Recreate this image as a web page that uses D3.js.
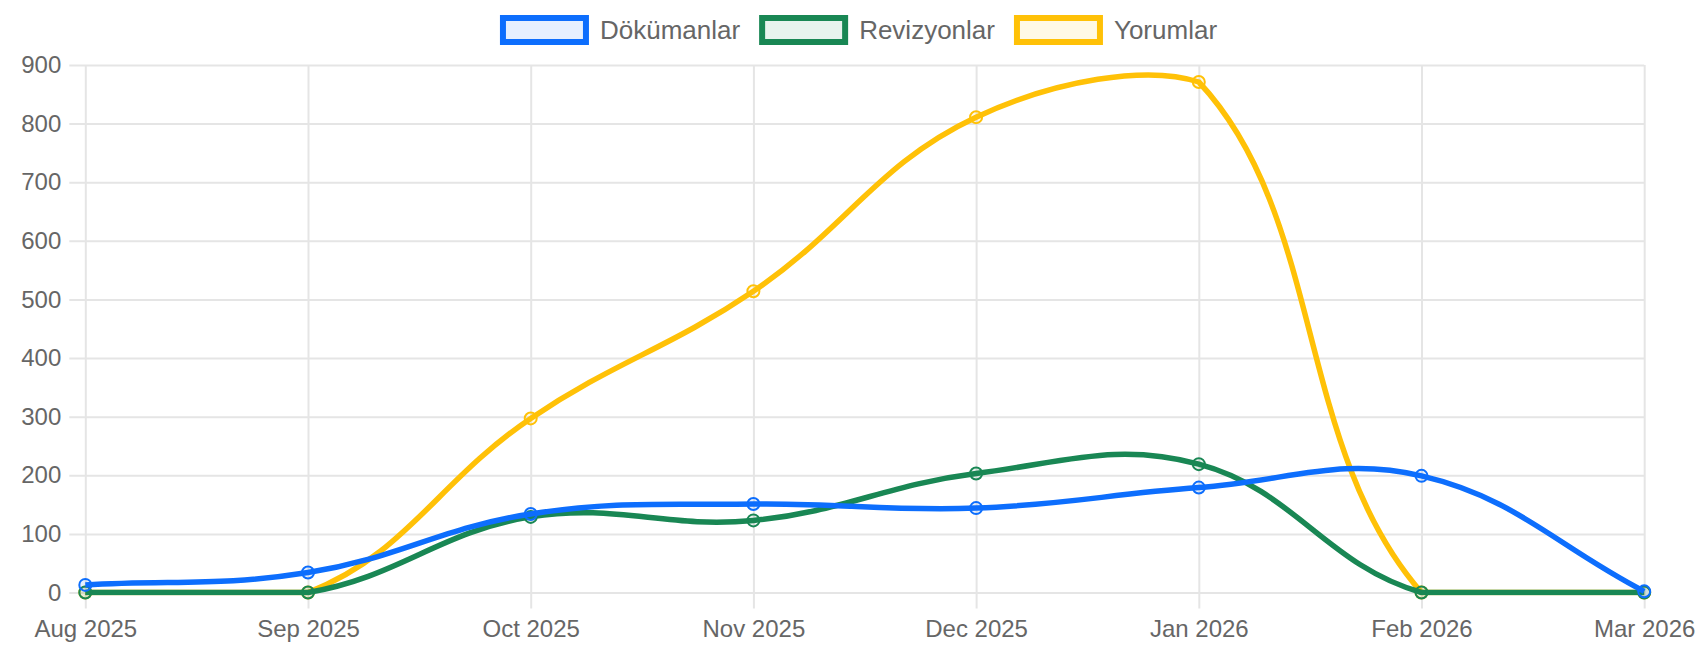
<!DOCTYPE html>
<html>
<head>
<meta charset="utf-8">
<script src="https://cdn.jsdelivr.net/npm/d3@7"></script>
<style>
  html, body { margin: 0; padding: 0; background: #fff; }
  svg { display: block; }
  text { font-family: "Helvetica Neue", Helvetica, Arial, "Liberation Sans", sans-serif; fill: #666; }
</style>
</head>
<body>
<div id="chart"></div>
<script>
'use strict';

// values
const months = ['Aug 2025', 'Sep 2025', 'Oct 2025', 'Nov 2025', 'Dec 2025', 'Jan 2026', 'Feb 2026', 'Mar 2026'];
const documents = [13, 34, 134, 151, 144, 179, 199, 2];
const revisions = [0, 0, 129, 123, 203, 219, 0, 0];
const comments = [0, 0, 297, 514, 811, 871, 0, 0];

const seriesNames = ['Dökümanlar', 'Revizyonlar', 'Yorumlar'];
const seriesColors = ['#0d6efd', '#198754', '#ffc107'];
const seriesFills = ['rgba(13,110,253,0.1)', 'rgba(25,135,84,0.1)', 'rgba(255,193,7,0.1)'];
const yMax = 900;

const width = 1698;
const height = 647;
const area = { left: 85.3, right: 1644.2, top: 65, bottom: 592.5 };

// same spline as chart.js line charts (tension 0.4, control points capped to the area)
function splinePath(pts, tension) {
  const n = pts.length;
  const cps = pts.map(function(cur, i) {
    const prev = i > 0 ? pts[i - 1] : cur;
    const next = i < n - 1 ? pts[i + 1] : cur;
    const d01 = Math.hypot(cur[0] - prev[0], cur[1] - prev[1]);
    const d12 = Math.hypot(next[0] - cur[0], next[1] - cur[1]);
    let s01 = d01 / (d01 + d12);
    let s12 = d12 / (d01 + d12);
    if (isNaN(s01)) s01 = 0;
    if (isNaN(s12)) s12 = 0;
    const fa = tension * s01;
    const fb = tension * s12;
    return {
      p: [cur[0] - fa * (next[0] - prev[0]), cur[1] - fa * (next[1] - prev[1])],
      n: [cur[0] + fb * (next[0] - prev[0]), cur[1] + fb * (next[1] - prev[1])]
    };
  });
  function inArea(pt) {
    return pt[0] > area.left - 0.5 && pt[0] < area.right + 0.5 && pt[1] > area.top - 0.5 && pt[1] < area.bottom + 0.5;
  }
  function cap(cp) {
    return [Math.max(Math.min(cp[0], area.right), area.left), Math.max(Math.min(cp[1], area.bottom), area.top)];
  }
  for (let i = 0; i < n; i++) {
    if (!inArea(pts[i])) continue;
    if (i > 0 && inArea(pts[i - 1])) cps[i].p = cap(cps[i].p);
    if (i < n - 1 && inArea(pts[i + 1])) cps[i].n = cap(cps[i].n);
  }
  const path = d3.path();
  path.moveTo(pts[0][0], pts[0][1]);
  for (let i = 1; i < n; i++) {
    path.bezierCurveTo(cps[i - 1].n[0], cps[i - 1].n[1], cps[i].p[0], cps[i].p[1], pts[i][0], pts[i][1]);
  }
  return path.toString();
}

function makeLineChart() {
  const svg = d3.select('#chart')
    .append('svg')
    .attr('width', width)
    .attr('height', height);

  const x = d3.scalePoint().domain(months).range([area.left, area.right]);
  const y = d3.scaleLinear().domain([0, yMax]).range([area.bottom, area.top]);

  // y axis + horizontal grid
  const yAxis = svg.append('g')
    .attr('transform', 'translate(' + (area.left - 16) + ',0)')
    .call(d3.axisLeft(y).ticks(10).tickSizeInner(-(area.right - area.left + 16)).tickSizeOuter(0).tickPadding(8));
  yAxis.select('.domain').remove();
  yAxis.selectAll('line').attr('stroke', '#e5e5e5').attr('stroke-width', 2);
  yAxis.selectAll('text').style('font-size', '24px').attr('fill', '#666');

  // x axis + vertical grid
  const xAxis = svg.append('g')
    .attr('transform', 'translate(0,' + area.top + ')')
    .call(d3.axisBottom(x).tickSizeInner(area.bottom - area.top + 16).tickSizeOuter(0).tickPadding(11));
  xAxis.select('.domain').remove();
  xAxis.selectAll('line').attr('stroke', '#e5e5e5').attr('stroke-width', 2);
  xAxis.selectAll('text').style('font-size', '24px').attr('fill', '#666');

  svg.append('defs').append('clipPath').attr('id', 'clip')
    .append('rect')
    .attr('x', area.left - 3).attr('y', area.top - 3)
    .attr('width', area.right - area.left + 6).attr('height', area.bottom - area.top + 6);

  const seriesData = [documents, revisions, comments];
  // chart.js draws the last dataset first
  const order = [2, 1, 0];
  order.forEach(function(si) {
    const pts = seriesData[si].map(function(v, i) { return [x(months[i]), y(v)]; });
    const g = svg.append('g').attr('class', 'series');
    g.append('path')
      .attr('clip-path', 'url(#clip)')
      .attr('d', splinePath(pts, 0.4))
      .attr('fill', 'none')
      .attr('stroke', seriesColors[si])
      .attr('stroke-width', 5.5);
    g.selectAll('circle')
      .data(seriesData[si])
      .enter()
      .append('circle')
      .attr('cx', function(d, i) { return x(months[i]); })
      .attr('cy', function(d) { return y(d); })
      .attr('r', 6)
      .attr('fill', seriesFills[si])
      .attr('stroke', seriesColors[si])
      .attr('stroke-width', 2);
  });

  // legend
  const boxW = 83;
  const boxH = 24;
  const gap = 11;
  const pad = 19;
  const legend = svg.append('g');
  let cursor = 0;
  seriesNames.forEach(function(name, i) {
    const item = legend.append('g').attr('transform', 'translate(' + cursor + ',0)');
    item.append('rect')
      .attr('x', 0).attr('y', 30 - boxH / 2)
      .attr('width', boxW).attr('height', boxH)
      .attr('fill', seriesFills[i])
      .attr('stroke', seriesColors[i])
      .attr('stroke-width', 6);
    const t = item.append('text')
      .attr('x', boxW + 3 + gap)
      .attr('y', 30)
      .attr('dy', '0.35em')
      .style('font-size', '26px')
      .attr('fill', '#666')
      .text(name);
    cursor += boxW + 3 + gap + t.node().getComputedTextLength() + pad + 3;
  });
  const total = cursor - pad - 3;
  legend.attr('transform', 'translate(' + (857 - total / 2 + 3) + ',0)');
}

makeLineChart();
</script>
</body>
</html>
